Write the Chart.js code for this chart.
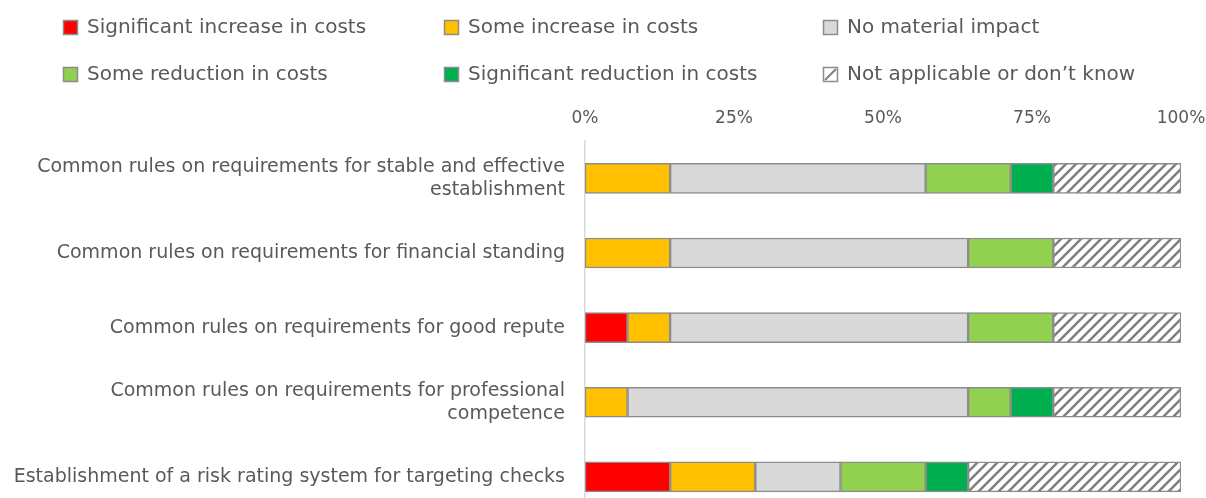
<!DOCTYPE html>
<html>
<head>
<meta charset="utf-8">
<script src="https://cdn.jsdelivr.net/npm/chart.js@4.4.1/dist/chart.umd.min.js"></script>
<style>
  html, body { margin: 0; padding: 0; background: #fff; overflow: hidden; }
  #wrap { width: 1206px; height: 498px; overflow: hidden; }
</style>
</head>
<body>
<div id="wrap"><canvas id="costChart" width="1206" height="549"></canvas></div>
<script>
// Categories (y axis), one line per entry
const categories = [
  ['Common rules on requirements for stable and effective', 'establishment'],
  'Common rules on requirements for financial standing',
  'Common rules on requirements for good repute',
  ['Common rules on requirements for professional', 'competence'],
  'Establishment of a risk rating system for targeting checks'
];

// Series labels (legend order)
const seriesLabels = [
  'Significant increase in costs',
  'Some increase in costs',
  'No material impact',
  'Some reduction in costs',
  'Significant reduction in costs',
  'Not applicable or don\u2019t know'
];

// Share of respondents, percent
const sigIncrease = [0, 0, 7.14, 0, 14.29];
const someIncrease = [14.29, 14.29, 7.14, 7.14, 14.29];
const noImpact = [42.86, 50, 50, 57.14, 14.29];
const someReduction = [14.29, 14.29, 14.29, 7.14, 14.29];
const sigReduction = [7.14, 0, 0, 7.14, 7.14];
const notApplicable = [21.43, 21.43, 21.43, 21.43, 35.71];

const xTicks = [0, 25, 50, 75, 100];

const FONT = 'DejaVu Sans, Verdana, sans-serif';
const TEXT = '#595959';

// diagonal hatch for "not applicable"
function makeHatch() {
  const n = 10;
  const c = document.createElement('canvas');
  c.width = n; c.height = n;
  const g = c.getContext('2d');
  g.fillStyle = '#ffffff';
  g.fillRect(0, 0, n, n);
  g.strokeStyle = '#808080';
  g.lineWidth = 2.6;
  g.beginPath();
  g.moveTo(-2, n + 2); g.lineTo(n + 2, -2);
  g.moveTo(-2, 2); g.lineTo(2, -2);
  g.moveTo(n - 2, n + 2); g.lineTo(n + 2, n - 2);
  g.stroke();
  return g.createPattern(c, 'repeat');
}
const hatch = makeHatch();

const seriesValues = [sigIncrease, someIncrease, noImpact, someReduction, sigReduction, notApplicable];
const seriesColors = ['#FF0000', '#FFC000', '#D9D9D9', '#92D050', '#00B050', hatch];

const datasets = seriesValues.map((vals, i) => ({
  label: seriesLabels[i],
  data: vals,
  backgroundColor: seriesColors[i],
  borderColor: '#8c8c8c',
  borderWidth: 1.5,
  borderSkipped: false,
  barThickness: 30
}));

// legend drawn on a fixed 3 column grid, like the original
const gridLegend = {
  id: 'gridLegend',
  afterDraw(chart) {
    const ctx = chart.ctx;
    const colX = [63, 444, 823];
    const rowY = [27, 74];
    ctx.save();
    ctx.font = '20px ' + FONT;
    ctx.textBaseline = 'middle';
    ctx.textAlign = 'left';
    chart.data.datasets.forEach((ds, i) => {
      const x = colX[i % 3];
      const y = rowY[Math.floor(i / 3)];
      if (i === 5) {
        ctx.fillStyle = '#fff';
        ctx.fillRect(x, y - 7, 15, 15);
        ctx.strokeStyle = '#7f7f7f';
        ctx.lineWidth = 2;
        ctx.beginPath();
        ctx.moveTo(x + 2, y + 6); ctx.lineTo(x + 13, y - 5);
        ctx.stroke();
      } else {
        ctx.fillStyle = ds.backgroundColor;
        ctx.fillRect(x, y - 7, 15, 15);
      }
      ctx.strokeStyle = '#8c8c8c';
      ctx.lineWidth = 1.5;
      ctx.strokeRect(x + 0.5, y - 6.5, 14, 14);
      ctx.fillStyle = TEXT;
      ctx.fillText(ds.label, x + 24, y + 1);
    });
    ctx.restore();
  }
};

new Chart(document.getElementById('costChart'), {
  type: 'bar',
  data: { labels: categories, datasets: datasets },
  plugins: [gridLegend],
  options: {
    indexAxis: 'y',
    responsive: false,
    animation: false,
    layout: { padding: { left: 0, right: 25, top: 0, bottom: 0 } },
    plugins: {
      legend: { display: false },
      tooltip: { enabled: false }
    },
    scales: {
      x: {
        position: 'top',
        stacked: true,
        min: 0,
        max: 100,
        afterBuildTicks: s => { s.ticks = xTicks.map(v => ({ value: v })); },
        afterFit: s => { s.height = 141; s.paddingRight = 0; s.paddingLeft = 0; },
        grid: { display: false },
        border: { display: false },
        ticks: {
          color: TEXT,
          font: { family: FONT, size: 17 },
          padding: 4,
          maxRotation: 0,
          callback: v => v + '%'
        }
      },
      y: {
        stacked: true,
        afterFit: s => { s.width = 585; },
        grid: { display: false },
        border: { display: true, color: '#d9d9d9', width: 1.5 },
        ticks: {
          color: TEXT,
          font: { family: FONT, size: 19, lineHeight: 1.2 },
          padding: 12
        }
      }
    }
  }
});
</script>
</body>
</html>
